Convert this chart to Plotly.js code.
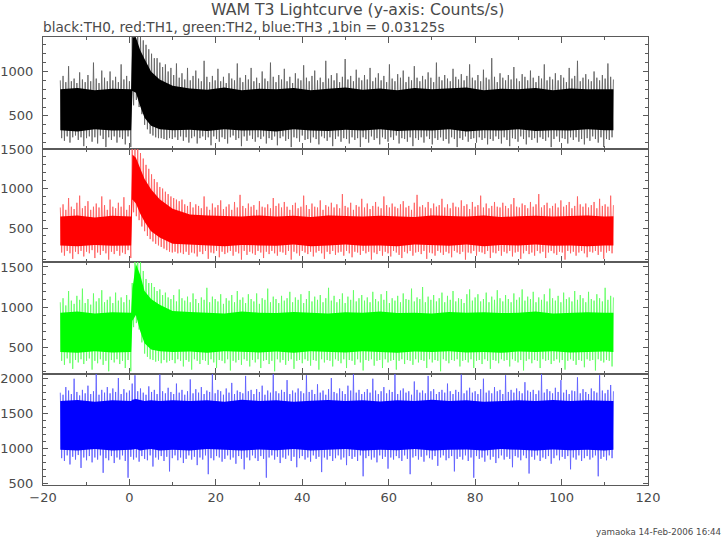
<!DOCTYPE html>
<html><head><meta charset="utf-8">
<script src="https://cdn.plot.ly/plotly-3.0.1.min.js"></script>
<style>html,body{margin:0;padding:0;background:#fff}#chart{width:724px;height:541px}</style>
</head><body><div id="chart"></div>
<script>
// Time span of the lightcurve (s)
const T_START = -16, T_END = 112;

// Outer spikes of each series: alternating local maximum / local minimum (counts/s)
// (min/max decimation of the 0.03125 s bins).

// TH0 (black)
const th0 = [
900,250,950,220,880,270,1060,200,890,260,920,280,870,230,990,260,910,160,880,250,
960,270,890,210,1100,260,920,190,870,280,1010,240,930,150,890,260,1000,230,900,270,
940,200,880,260,1080,240,910,180,950,270,890,150,1400,620,1400,680,1400,600,1390,520,
1350,400,1300,350,1250,300,1200,280,1150,260,1150,250,1100,250,1050,240,1080,230,1000,250,
1040,240,960,260,1090,230,930,270,980,220,910,260,1040,200,900,250,950,270,1010,190,
920,250,890,270,1120,230,940,260,880,170,950,270,900,240,1030,210,890,260,940,240,
870,190,980,260,920,280,900,230,1090,250,930,160,880,270,960,220,910,280,1040,240,
890,210,930,260,870,240,1000,270,920,190,890,250,1100,230,940,270,880,170,960,250,
910,270,1030,220,890,240,940,150,870,260,980,250,920,210,900,280,1070,230,930,240,
890,200,950,260,1010,240,900,180,930,270,880,250,1120,220,920,260,960,160,900,240,
980,270,880,210,940,250,1140,240,910,190,950,260,890,230,1020,250,930,150,900,260,
960,240,910,200,1040,270,890,230,930,250,980,180,900,260,950,240,880,210,1080,260,
920,230,890,280,970,190,930,250,1010,240,880,210,940,260,900,160,1060,250,930,230,
890,260,950,200,910,270,990,240,930,180,880,250,1100,230,940,260,900,220,960,240,
920,190,890,260,1030,240,940,150,910,250,970,230,900,270,950,210,1080,240,930,250,
900,200,960,260,890,230,1020,250,930,180,910,240,1150,220,940,270,880,240,980,190,
930,260,900,230,960,160,910,250,1050,240,920,210,890,270,970,240,940,180,900,260,
1010,230,930,250,880,200,950,260,920,240,1080,220,900,260,940,150,910,240,980,270,
900,210,960,250,930,240,880,190,1040,260,920,230,950,260,1120,210,890,240,930,180,
970,250,910,220,890,270,1000,240,930,200,900,260,960,150,920,240,1090,230,940,260,910
];

// TH1 (red)
const th1 = [
760,190,800,150,730,210,880,180,770,110,740,200,820,170,910,210,750,140,780,200,
840,180,730,220,770,120,810,190,760,160,900,210,790,180,730,100,860,200,770,170,
750,210,820,150,770,190,890,170,730,220,790,120,1500,700,1500,650,1500,600,1450,520,
1380,460,1300,400,1250,360,1180,330,1120,300,1080,280,1020,260,1000,240,960,220,930,200,
900,190,880,200,860,180,840,190,860,170,800,200,780,160,830,190,760,180,800,140,
780,200,750,170,900,210,770,110,730,190,810,180,760,210,790,130,850,200,740,170,
770,190,800,210,730,150,830,200,760,180,920,100,780,210,750,160,810,200,770,180,
790,160,730,210,840,190,770,120,760,200,800,170,750,210,880,180,780,150,810,200,
760,190,830,160,770,210,730,100,790,200,820,180,750,150,770,210,910,190,790,170,
740,200,810,140,770,190,760,210,850,180,730,110,790,200,770,170,820,210,760,160,
800,190,750,200,930,150,780,210,760,180,820,130,730,200,790,190,770,160,870,210,
760,180,810,200,740,100,780,190,830,170,770,210,750,150,900,200,790,180,760,140,
810,210,770,190,750,160,800,120,840,200,760,180,780,210,730,150,820,190,920,200,
770,170,790,210,760,110,830,190,750,180,810,150,770,210,790,190,870,160,760,200,
800,180,750,130,820,210,770,190,760,170,850,200,780,100,800,190,740,180,830,210,
770,150,790,200,910,190,760,170,810,210,750,120,780,190,830,180,770,210,760,150,
820,200,780,180,750,210,800,140,880,190,770,200,760,110,810,180,790,210,750,170,
830,190,770,150,800,210,930,180,760,200,790,120,820,190,750,210,780,180,810,160,
760,200,850,190,770,100,790,210,830,180,750,200,780,150,900,190,800,210,770,180,
810,130,760,200,790,190,830,210,750,160,870,200,780,110,800,190,770,210,910,180,790
];

// TH2 (green)
const th2 = [
1060,330,1110,280,1020,360,1200,300,1080,230,1040,340,1140,310,1090,350,1230,290,1050,330,
1100,360,1030,220,1170,330,1070,300,1110,350,1210,280,1060,330,1090,200,1130,340,1050,310,
1180,350,1080,290,1120,330,1060,240,1150,340,1090,200,1300,750,1570,800,1570,720,1570,560,
1450,420,1350,380,1300,350,1300,340,1250,320,1200,330,1220,300,1150,340,1180,310,1120,330,
1100,340,1150,300,1070,350,1220,330,1110,260,1080,340,1130,320,1060,220,1170,350,1100,330,
1050,290,1120,340,1090,330,1240,280,1060,350,1130,310,1100,240,1070,340,1160,330,1040,300,
1110,350,1080,210,1150,330,1060,310,1200,340,1090,280,1120,350,1050,330,1160,260,1100,340,
1070,310,1170,350,1040,240,1110,330,1090,340,1230,290,1060,330,1130,200,1100,350,1050,310,
1140,340,1080,280,1110,330,1190,350,1060,230,1120,330,1090,340,1160,300,1050,350,1100,330,
1200,270,1070,340,1130,330,1090,220,1150,350,1060,310,1110,340,1240,330,1080,260,1140,350,
1060,330,1100,300,1170,350,1050,240,1130,340,1090,330,1210,280,1070,350,1110,310,1150,210,
1080,340,1120,330,1060,350,1190,270,1100,330,1070,340,1160,240,1090,350,1200,310,1050,330,
1110,340,1080,220,1140,330,1060,350,1170,290,1100,340,1090,330,1230,280,1070,350,1120,310,
1100,340,1250,330,1060,240,1130,350,1090,310,1150,340,1070,330,1110,200,1180,350,1060,330,
1140,300,1090,340,1200,330,1070,350,1110,260,1100,330,1050,340,1160,310,1220,350,1080,240,
1120,330,1160,340,1070,290,1100,350,1180,330,1060,230,1130,340,1090,330,1210,300,1110,350,
1070,330,1150,340,1100,260,1060,350,1170,330,1090,310,1120,340,1220,210,1080,330,1130,350,
1100,300,1190,340,1060,330,1120,240,1090,350,1160,330,1070,340,1230,290,1110,330,1080,350,
1140,310,1060,340,1180,220,1100,330,1120,350,1070,330,1200,280,1090,340,1150,330,1110,250,
1060,350,1190,330,1100,340,1080,210,1160,350,1110,330,1070,310,1240,340,1090,330,1140,260,1120
];

// TH3 (blue)
const th3 = [
1800,860,1770,820,1880,900,1830,770,1780,880,2000,840,1810,905,1760,720,1840,870,1790,830,
1900,890,1780,800,1820,870,2070,840,1770,900,1840,650,1800,860,1880,830,1790,890,1860,790,
1810,870,2010,840,1780,900,1850,820,1800,580,1830,880,1930,840,2050,870,1820,810,1860,890,
1800,850,1770,830,1890,900,1810,740,1840,870,1780,840,2060,890,1820,820,1790,880,1870,670,
1810,860,1780,900,1930,830,1800,870,1840,790,1770,850,1820,900,1990,840,1790,880,1850,760,
1800,870,1880,840,1780,900,1830,630,1810,860,2070,830,1790,890,1840,870,1820,810,1770,850,
1860,900,1800,840,1940,870,1780,780,1830,890,1810,850,1790,700,2040,870,1820,830,1840,900,
1780,860,1850,820,1810,890,1900,850,1770,580,1830,870,1800,900,2070,840,1820,880,1790,790,
1840,870,1810,850,1980,900,1780,820,1830,880,1800,730,1860,860,1820,890,1790,840,2050,870,
1810,810,1840,900,1780,850,1920,880,1800,660,1830,870,1770,840,1850,890,2010,820,1810,860,
1790,900,1860,840,1820,870,1780,760,1900,890,1830,850,2070,880,1800,820,1840,900,1780,600,
1810,860,1850,890,1800,840,2000,870,1830,800,1780,900,1820,850,1880,880,1790,710,1840,870,
1810,840,2075,890,1780,860,1830,820,1860,900,1800,850,1820,630,1770,870,1960,890,1840,840,
1800,880,1830,810,1790,900,2040,860,1820,840,1850,890,1780,750,1810,870,1840,900,1800,830,
1930,860,1820,890,1780,670,1840,850,1810,880,2060,840,1790,900,1830,820,1870,870,1800,580,
1820,890,1780,850,1850,870,2000,810,1800,900,1830,840,1790,880,1880,790,1820,860,1840,900,
1780,840,2050,880,1810,850,1840,730,1800,890,1860,870,1820,830,1790,900,1950,860,1830,640,
1810,880,1840,840,1780,900,1830,820,2070,870,1800,850,1850,890,1820,780,1790,860,1870,900,
1810,830,1980,880,1800,850,1840,890,1780,700,1830,870,1820,840,2020,900,1790,820,1850,860,
1810,890,1780,840,1860,870,1820,900,1800,600,2050,850,1830,880,1790,830,1840,900,1910,860,1820
];

// Dense core of each band (where the curve saturates), read at these times (s)
const coreT = [-16,-12,-8,-4,0.4, 0.7,1.5,2.5,3.5,5,7,10,
  14,18,22,26,30,34,38,42,46,50,54,58,62,66,70,74,78,82,86,90,94,98,102,106,110, 112];
const th0Lo = [340,325,350,335,340, 780,760,610,480,390,350,340,
  345,330,350,335,340,325,350,335,330,345,335,350,330,340,335,350,325,340,335,350,330,340,335,350,340, 340];
const th0Hi = [800,815,790,805,800, 1385,1385,1240,1140,1000,910,840,
  810,795,820,790,805,800,815,790,805,820,795,810,790,815,800,810,820,790,805,800,815,790,810,800,805, 800];
const th1Lo = [280,270,285,275,280, 860,810,680,580,460,380,300,
  290,280,270,285,280,275,290,270,280,290,275,280,270,290,280,275,290,270,285,280,290,275,280,270,280, 280];
const th1Hi = [645,660,635,655,645, 1430,1390,1250,1120,990,865,745,
  670,660,650,645,660,645,655,640,660,650,645,655,650,640,660,655,645,660,640,650,655,645,650,660,645, 650];
const th2Lo = [440,430,450,435,440, 830,900,700,550,470,450,440,
  445,430,450,440,435,445,430,450,440,435,450,440,430,445,440,450,435,440,430,445,440,450,435,440,445, 440];
const th2Hi = [930,945,920,935,930, 1230,1540,1400,1200,1100,1030,950,
  940,930,920,945,930,925,940,930,920,935,930,945,925,930,920,940,930,935,925,930,945,920,930,935,930, 930];
const th3Lo = [980,970,990,970,980, 980,990,970,980,990,970,980,
  970,990,980,970,985,975,990,970,980,990,970,980,975,990,970,980,985,970,990,980,970,985,975,980,970, 980];
const th3Hi = [1680,1695,1670,1690,1680, 1700,1710,1690,1680,1690,1680,1690,
  1680,1690,1670,1700,1680,1690,1670,1685,1695,1680,1690,1675,1690,1680,1700,1680,1690,1670,1685,1690,1680,1695,1680,1690,1685, 1680];

const seriesColors = ['#000000', '#ff0000', '#00ff00', '#0000ff'];
const spikeColors = ['#5e5e5e', '#ff5c5c', '#5eff5e', '#5c5cff'];
const xTickVals = [-20, 0, 20, 40, 60, 80, 100, 120];

function times(arr) {
  const s = (T_END - T_START) / (arr.length - 1);
  return arr.map((_, i) => T_START + i * s);
}

const series = [th0, th1, th2, th3];
const cores = [[th0Lo, th0Hi], [th1Lo, th1Hi], [th2Lo, th2Hi], [th3Lo, th3Hi]];
const axisIds = ['', '2', '3', '4'];
const traces = [];
series.forEach((v, k) => {
  traces.push({
    type: 'scatter', mode: 'lines',
    x: times(v), y: v,
    xaxis: 'x' + axisIds[k], yaxis: 'y' + axisIds[k],
    line: { color: spikeColors[k], width: 0.85, simplify: false },
    hoverinfo: 'skip', showlegend: false
  });
  const lo = cores[k][0], hi = cores[k][1];
  traces.push({
    type: 'scatter', mode: 'lines',
    x: coreT.concat(coreT.slice().reverse()),
    y: hi.concat(lo.slice().reverse()),
    xaxis: 'x' + axisIds[k], yaxis: 'y' + axisIds[k],
    fill: 'toself', fillcolor: seriesColors[k],
    line: { color: seriesColors[k], width: 0 },
    hoverinfo: 'skip', showlegend: false
  });
});

const axC = '#5a5a5a', txC = '#4a4a4a';
const tickFont = { family: 'DejaVu Sans', size: 13, color: txC };

function xa(anchor, showLabels) {
  return {
    domain: [0, 1], range: [-20, 120], anchor: anchor,
    showline: true, linecolor: axC, linewidth: 1, mirror: 'allticks',
    ticks: 'inside', ticklen: 6, tickcolor: axC, tickvals: xTickVals,
    showticklabels: showLabels, zeroline: false, showgrid: false,
    minor: { ticks: 'inside', ticklen: 3, dtick: 10, tick0: 0, tickcolor: axC, showgrid: false },
    tickfont: tickFont, ticklabelstandoff: 0
  };
}
function ya(domain, range, anchor) {
  return {
    domain: domain, range: range, anchor: anchor,
    showline: true, linecolor: axC, linewidth: 1, mirror: 'allticks',
    ticks: 'inside', ticklen: 5, tickcolor: axC, dtick: 500, tick0: 0,
    zeroline: false, showgrid: false,
    minor: { ticks: 'inside', ticklen: 3, dtick: 100, tick0: 0, tickcolor: axC, showgrid: false },
    tickfont: tickFont, ticklabelstandoff: 6
  };
}

const layout = {
  width: 724, height: 541,
  margin: { l: 43, r: 76, t: 37, b: 56 },
  paper_bgcolor: '#ffffff', plot_bgcolor: '#ffffff',
  showlegend: false,
  xaxis: xa('y', false),
  xaxis2: xa('y2', false),
  xaxis3: xa('y3', false),
  xaxis4: xa('y4', true),
  yaxis: ya([0.75, 1], [128, 1388], 'x'),
  yaxis2: ya([0.4978, 0.75], [70, 1501], 'x2'),
  yaxis3: ya([0.2478, 0.4978], [166, 1562], 'x3'),
  yaxis4: ya([0, 0.2478], [475, 2068], 'x4'),
  annotations: [
    { text: 'WAM T3 Lightcurve (y-axis: Counts/s)', xref: 'paper', yref: 'paper',
      x: (357.5 - 43) / 605, y: (485 - 10) / 448, xanchor: 'center', yanchor: 'middle', showarrow: false,
      font: { family: 'DejaVu Sans', size: 15.7, color: txC } },
    { text: 'black:TH0, red:TH1, green:TH2, blue:TH3 ,1bin = 0.03125s', xref: 'paper', yref: 'paper',
      x: (244 - 43) / 605, y: (485 - 27) / 448, xanchor: 'center', yanchor: 'middle', showarrow: false,
      font: { family: 'DejaVu Sans', size: 13.6, color: txC } },
    { text: 'yamaoka 14-Feb-2006 16:44', xref: 'paper', yref: 'paper',
      x: (659 - 43) / 605, y: (485 - 532) / 448, xanchor: 'center', yanchor: 'middle', showarrow: false,
      font: { family: 'DejaVu Sans', size: 8.7, color: txC } }
  ]
};

Plotly.newPlot('chart', traces, layout, { displayModeBar: false, staticPlot: true });
</script>
</body></html>
